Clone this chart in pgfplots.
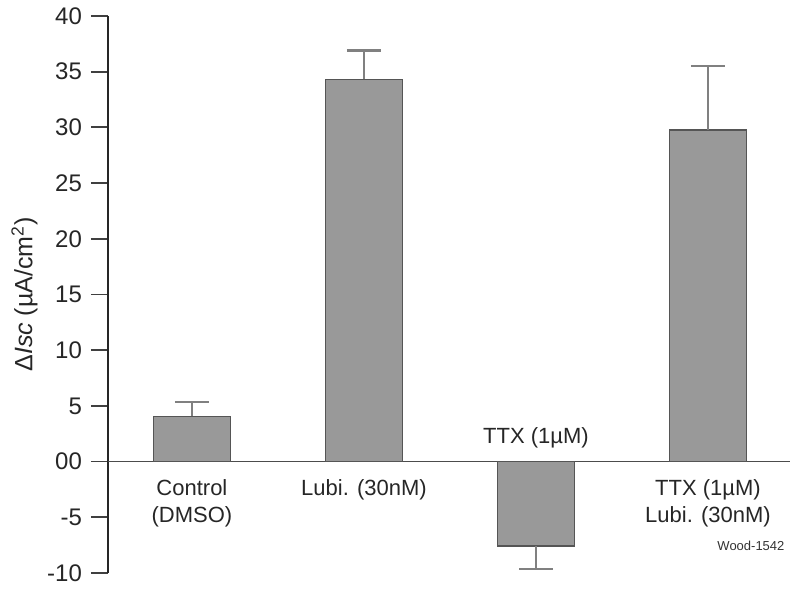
\documentclass[border=0pt]{standalone}
\usepackage{fontspec}
\setmainfont{Liberation Sans}
\usepackage{pgfplots}
\pgfplotsset{compat=1.18}

\definecolor{barfill}{HTML}{999999}
\definecolor{baredge}{HTML}{555555}
\definecolor{errcol}{HTML}{808080}

\begin{document}
\begin{tikzpicture}
\begin{axis}[
  name=ax,
  scale only axis,
  width=341pt,
  height=278.5pt,
  xmin=0.512, xmax=4.477,
  ymin=-10, ymax=40,
  axis y line=left,
  axis x line=none,
  y axis line style={-, line width=0.9pt, black!85},
  ytick={-10,-5,0,5,10,15,20,25,30,35,40},
  yticklabels={-10,-5,00,5,10,15,20,25,30,35,40},
  tick align=outside,
  major tick length=8.5pt,
  ytick style={line width=0.9pt, black!75},
  yticklabel style={font=\fontsize{12}{14}\selectfont, text=black!85, xshift=-1pt},
  /pgf/number format/assume math mode=true,
  ylabel={\fontsize{12.5}{14}\selectfont Δ\textit{Isc} (µA/cm\textsuperscript{2})},
  ylabel style={text=black!85, yshift=-2pt},
  ybar, bar width=38.5pt, bar shift=0pt,
  clip=false,
]
\draw[line width=0.7pt, black!70] (axis cs:0.512,0) -- (axis cs:4.477,0);
% positive bars, error upwards
\addplot[fill=barfill, draw=baredge, line width=0.9pt,
  error bars/.cd, y dir=plus, y explicit,
  error bar style={errcol, line width=1.2pt},
  error mark options={rotate=90, mark size=8.5pt, errcol, line width=1.2pt}]
  coordinates {
  (1,4.05) +- (0,1.3)
  (2,34.3) +- (0,2.6)
  (4,29.8) +- (0,5.7)
};
% negative bar, error downwards
\addplot[fill=barfill, draw=baredge, line width=0.9pt,
  error bars/.cd, y dir=minus, y explicit,
  error bar style={errcol, line width=1.2pt},
  error mark options={rotate=90, mark size=8.5pt, errcol, line width=1.2pt}]
  coordinates {
  (3,-7.55) +- (0,2.1)
};
\begin{scope}[font=\fontsize{11}{13.5}\selectfont, text=black!85]
\node[align=center, anchor=north] at (axis cs:1,-1.0) {Control\\(DMSO)};
\node[align=center, anchor=north] at (axis cs:2,-1.0) {Lubi. (30nM)};
\node[align=center, anchor=south] at (axis cs:3,0.6) {TTX (1µM)};
\node[align=center, anchor=north] at (axis cs:4,-1.0) {TTX (1µM)\\Lubi. (30nM)};
\end{scope}
\node[font=\fontsize{6.5}{7}\selectfont, text=black!80] at (axis cs:4.25,-7.6) {Wood-1542};
\end{axis}
\pgfresetboundingbox
\path[use as bounding box] ([shift={(-54pt,-8.5pt)}]ax.south west) rectangle ([shift={(5pt,8pt)}]ax.north east);
\end{tikzpicture}
\end{document}
